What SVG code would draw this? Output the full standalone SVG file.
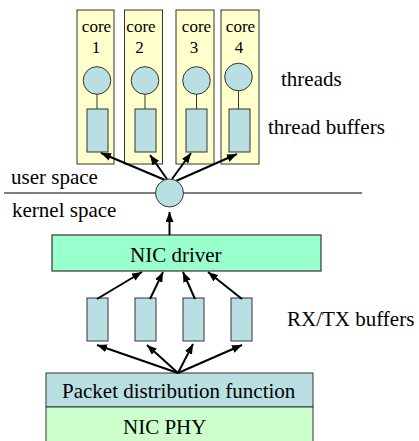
<svg xmlns="http://www.w3.org/2000/svg" width="419" height="441" viewBox="0 0 419 441">
<defs>
<marker id="ah" markerUnits="userSpaceOnUse" markerWidth="10" markerHeight="8" refX="10" refY="4" orient="auto">
<path d="M0,0 L10,4 L0,8 z" fill="#000"/>
</marker>
<style>
text{font-family:"Liberation Serif","Times New Roman",serif;fill:#000}
.lbl{font-size:21px}
.core{font-size:17px;text-anchor:middle}
.cbox{fill:#FFFFCC;stroke:#333;stroke-width:1}
.blue{fill:#B9DFE3;stroke:#333;stroke-width:1}
.thin{stroke:#333;stroke-width:1;fill:none}
.arr{stroke:#000;stroke-width:2;fill:none;marker-end:url(#ah)}
</style>
</defs>
<rect width="419" height="441" fill="#fff"/>

<g id="core1">
<rect class="cbox" x="77" y="10" width="37" height="154"/>
<text class="core" x="96.5" y="32">core</text>
<text class="core" x="96" y="53">1</text>
<line class="thin" x1="97" y1="94" x2="97" y2="109"/>
<circle class="blue" cx="97" cy="80.5" r="13.8"/>
<rect class="blue" x="87" y="109" width="21" height="43"/>
</g>
<g id="core2">
<rect class="cbox" x="124.5" y="10" width="38" height="154"/>
<text class="core" x="141" y="32">core</text>
<text class="core" x="139.5" y="53">2</text>
<line class="thin" x1="145" y1="94" x2="145" y2="109"/>
<circle class="blue" cx="145" cy="80.5" r="13.8"/>
<rect class="blue" x="135" y="109" width="21" height="43"/>
</g>
<g id="core3">
<rect class="cbox" x="176" y="10" width="38" height="154"/>
<text class="core" x="196.5" y="32">core</text>
<text class="core" x="194" y="53">3</text>
<line class="thin" x1="196.5" y1="94" x2="196.5" y2="109"/>
<circle class="blue" cx="196.5" cy="80.5" r="13.8"/>
<rect class="blue" x="186" y="109" width="21" height="43"/>
</g>
<g id="core4">
<rect class="cbox" x="221" y="10" width="38" height="154"/>
<text class="core" x="240.5" y="32">core</text>
<text class="core" x="239" y="53">4</text>
<line class="thin" x1="238.5" y1="91" x2="238.5" y2="109"/>
<circle class="blue" cx="238.5" cy="77" r="13.8"/>
<rect class="blue" x="229" y="109" width="21" height="43"/>
</g>

<g id="labels">
<text class="lbl" x="281" y="86">threads</text>
<text class="lbl" x="268" y="134">thread buffers</text>
<text class="lbl" x="11" y="184">user space</text>
<text class="lbl" x="12" y="217">kernel space</text>
<text class="lbl" x="287" y="326">RX/TX buffers</text>
</g>

<line id="divider" x1="4" y1="193" x2="362" y2="193" stroke="#000" stroke-width="1.2"/>

<g id="nic-driver">
<rect x="52" y="235" width="269" height="36" fill="#99FFCC" stroke="#333" stroke-width="1.2"/>
<text class="lbl" x="130" y="262">NIC driver</text>
</g>

<g id="rxtx">
<rect class="blue" x="87" y="298" width="21" height="43"/>
<rect class="blue" x="135" y="298" width="21" height="43"/>
<rect class="blue" x="183" y="298" width="21" height="43"/>
<rect class="blue" x="231" y="298" width="21" height="43"/>
</g>

<g id="packet-dist">
<rect class="blue" x="46" y="373" width="267" height="34"/>
<text class="lbl" x="62" y="398">Packet distribution function</text>
</g>
<g id="nic-phy">
<rect x="46" y="407" width="267" height="40" fill="#CCFFCC" stroke="#333" stroke-width="1"/>
<text class="lbl" x="123" y="434">NIC PHY</text>
</g>

<g id="connectors">
<line class="arr" x1="165" y1="180" x2="101" y2="153"/>
<line class="arr" x1="167" y1="179" x2="150" y2="155"/>
<line class="arr" x1="172" y1="179" x2="191" y2="153"/>
<line class="arr" x1="176" y1="181" x2="237" y2="154"/>
<line class="arr" x1="169.5" y1="235" x2="169.5" y2="212"/>
<line class="arr" x1="97" y1="299" x2="142" y2="272"/>
<line class="arr" x1="150" y1="299" x2="163" y2="272"/>
<line class="arr" x1="195" y1="299" x2="183" y2="272"/>
<line class="arr" x1="242" y1="299" x2="208" y2="272"/>
<line class="arr" x1="178" y1="373" x2="97" y2="345"/>
<line class="arr" x1="178" y1="373" x2="147" y2="345"/>
<line class="arr" x1="178" y1="373" x2="193" y2="344"/>
<line class="arr" x1="178" y1="373" x2="242" y2="345"/>
</g>
<g id="dist-node">
<circle class="blue" cx="169.5" cy="193" r="14"/>
</g>
</svg>
